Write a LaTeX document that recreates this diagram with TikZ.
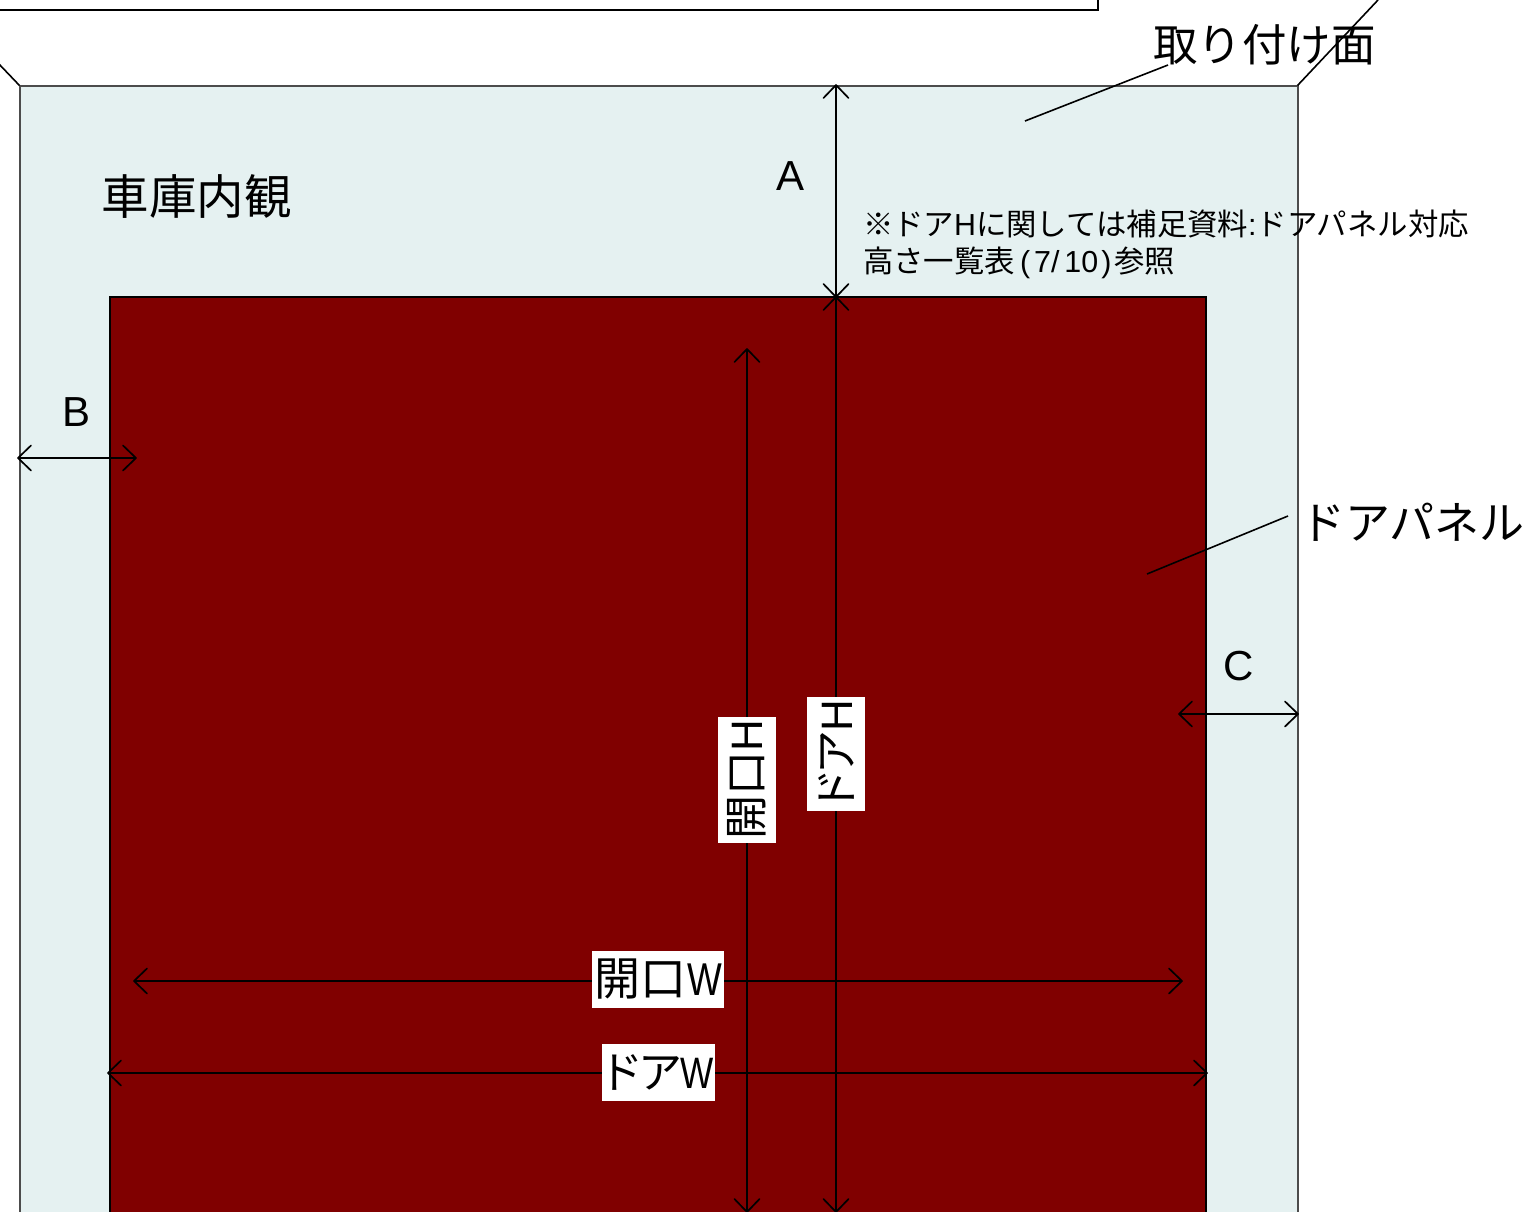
\documentclass[tikz,border=0pt]{standalone}
\usepackage{fontspec}
\usepackage{graphicx}
\setmainfont{Noto Sans CJK JP}
\newfontfamily\latinf{Liberation Sans}
\newfontfamily\paltf{Noto Sans CJK JP}[RawFeature=+palt]
\usetikzlibrary{arrows.meta}
\pgfdeclarearrow{
  name=OpenVee,
  parameters={\the\pgfarrowlength,\the\pgfarrowwidth},
  setup code={
    \pgfarrowssettipend{0pt}
    \pgfarrowssetlineend{0pt}
    \pgfarrowssetvisualbackend{-\pgfarrowlength}
    \pgfarrowssetbackend{-\pgfarrowlength}
    \pgfarrowshullpoint{0pt}{0pt}
    \pgfarrowssavethe\pgfarrowlength
    \pgfarrowssavethe\pgfarrowwidth
  },
  drawing code={
    \pgfsetdash{}{0pt}
    \pgfsetroundjoin
    \pgfsetroundcap
    \pgfpathmoveto{\pgfqpoint{-\pgfarrowlength}{0.5\pgfarrowwidth}}
    \pgfpathlineto{\pgfqpoint{0pt}{0pt}}
    \pgfpathlineto{\pgfqpoint{-\pgfarrowlength}{-0.5\pgfarrowwidth}}
    \pgfusepathqstroke
  },
  defaults={length=13pt,width=25pt}
}
\tikzset{
  dimline/.style={draw=black,line width=1.7pt,{OpenVee}-{OpenVee}},
  leader/.style={draw=black,line width=1.6pt},
  mountface/.style={draw=black!70,line width=2pt,fill=facecol,anchor=north west,inner sep=0pt,outer sep=0pt},
  doorpanel/.style={draw=black,line width=1.8pt,fill=doorcol,anchor=north west,inner sep=0pt,outer sep=0pt},
  whitebox/.style={fill=white,inner sep=0pt,outer sep=0pt,align=center},
  plainlabel/.style={inner sep=0pt,outer sep=0pt,anchor=west},
}
\definecolor{facecol}{HTML}{E5F1F1}
\definecolor{doorcol}{HTML}{800000}
\newcommand{\narrowW}{{\latinf\scalebox{0.8}[1]{W}}}
\begin{document}
\begin{tikzpicture}[x=1pt,y=-1pt]
\useasboundingbox (0,0) rectangle (1527,1211);
\clip (0,0) rectangle (1527,1211);
% top box
\coordinate (boxL) at (-5,10);
\coordinate (boxC) at (1098,10);
\coordinate (boxT) at (1098,-5);
\draw[leader] (boxL) -- (boxC) -- (boxT);
% panels
\node[mountface,minimum width=1278pt,minimum height=1200pt] (face) at (19.5,85.5) {};
\node[doorpanel,minimum width=1096pt,minimum height=1000pt] (door) at (110,297) {};
% corner lines
\coordinate (cornerLa) at (-2,63);
\coordinate (cornerLb) at (19.5,85.5);
\coordinate (cornerRa) at (1297.5,85.5);
\coordinate (cornerRb) at (1378,0);
\draw[leader] (cornerLa) -- (cornerLb);
\draw[leader] (cornerRa) -- (cornerRb);
% leaders
\coordinate (faceLeadA) at (1025,121);
\coordinate (faceLeadB) at (1168,65);
\coordinate (doorLeadA) at (1147,574);
\coordinate (doorLeadB) at (1288,516);
\draw[leader] (faceLeadA) -- (faceLeadB);
\draw[leader] (doorLeadA) -- (doorLeadB);
% dimension lines
\coordinate (aT) at (836,85);
\coordinate (aB) at (836,297);
\coordinate (dhT) at (836,297);
\coordinate (dhB) at (836,1212);
\coordinate (ohT) at (747,349);
\coordinate (ohB) at (747,1212);
\coordinate (owL) at (134,981);
\coordinate (owR) at (1182,981);
\coordinate (dwL) at (108,1073);
\coordinate (dwR) at (1207,1073);
\coordinate (bL) at (18,458);
\coordinate (bR) at (136,458);
\coordinate (cL) at (1179,714);
\coordinate (cR) at (1298,714);
\draw[dimline] (aT) -- (aB);
\draw[dimline] (dhT) -- (dhB);
\draw[dimline] (ohT) -- (ohB);
\draw[dimline] (owL) -- (owR);
\draw[dimline] (dwL) -- (dwR);
\draw[dimline] (bL) -- (bR);
\draw[dimline] (cL) -- (cR);
% white labels
\node[whitebox,minimum width=126pt,minimum height=58pt,rotate=90] (openH) at (747,780) {\fontsize{44}{48}\selectfont 開口{\latinf H}};
\node[whitebox,minimum width=114pt,minimum height=58pt,rotate=90] (doorH) at (836,754) {\fontsize{44}{48}\paltf\selectfont ドア{\latinf H}};
\node[whitebox,minimum width=132pt,minimum height=57pt] (openW) at (658,979.5) {\fontsize{46}{50}\selectfont 開口\kern1pt\narrowW};
\node[whitebox,minimum width=113pt,minimum height=57pt] (doorW) at (658.5,1072.5) {\kern2pt\fontsize{44}{48}\paltf\selectfont ドア\narrowW};
% text labels
\node[plainlabel] (mountlabel) at (1153,45) {\fontsize{44.5}{50}\selectfont 取り付け面};
\node[plainlabel] (insidelabel) at (101.5,197) {\fontsize{47.5}{52}\selectfont 車庫内観};
\node[plainlabel] (doorlabel) at (1300,522) {\fontsize{45}{50}\selectfont ドアパネル};
\node[plainlabel] (noteA) at (863,224) {\fontsize{30.4}{34}\selectfont ※ドア{\latinf H}に関しては補足資料{\latinf :}ドアパネル対応};
\node[plainlabel] (noteB) at (863,263) {\fontsize{30.4}{34}\selectfont 高さ一覧表{\latinf \kern5pt(\kern4pt7/\kern5pt10\kern3pt)\kern3pt}参照};
\node[plainlabel,anchor=center] (labA) at (790,176) {\fontsize{42}{48}\selectfont\latinf A};
\node[plainlabel,anchor=center] (labB) at (77,412) {\fontsize{42}{48}\selectfont\latinf B};
\node[plainlabel,anchor=center] (labC) at (1239,666) {\fontsize{42}{48}\selectfont\latinf C};
\end{tikzpicture}
\end{document}
